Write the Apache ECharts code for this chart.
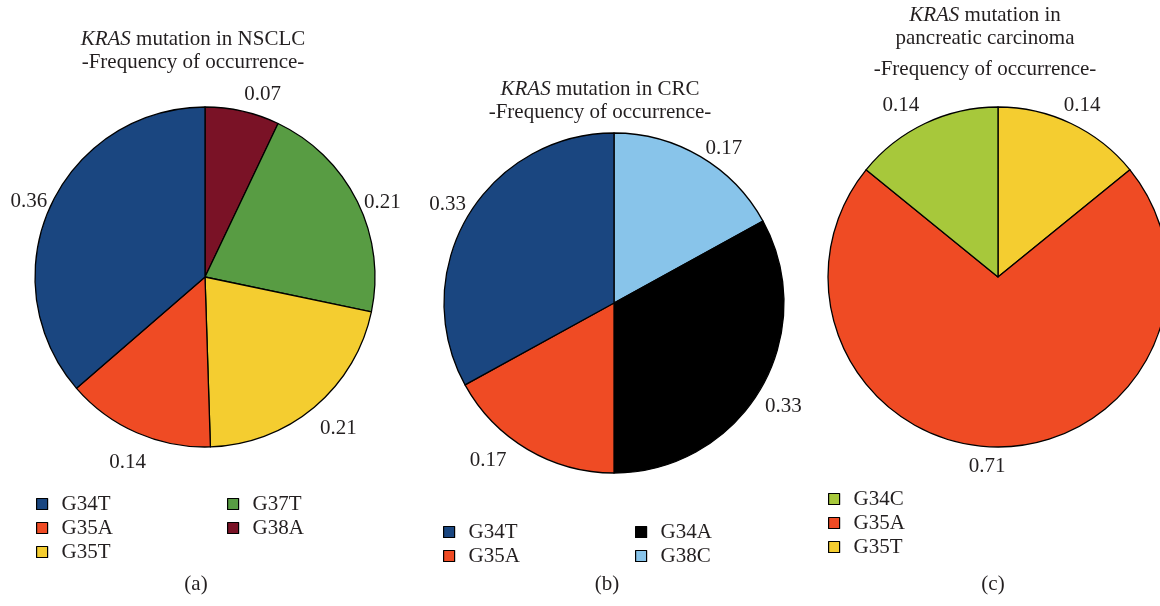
<!DOCTYPE html>
<html>
<head>
<meta charset="utf-8">
<script src="https://cdn.jsdelivr.net/npm/echarts@6/dist/echarts.min.js"></script>
<style>
html,body{margin:0;padding:0;background:#fff;}
#chart{width:1160px;height:606px;}
</style>
</head>
<body>
<div id="chart"></div>
<script>
// ---- data ----
// NSCLC (clockwise from 12 o'clock)
const nsclcNames = ['G38A', 'G37T', 'G35T', 'G35A', 'G34T'];
const nsclcValues = [0.07, 0.21, 0.21, 0.14, 0.36];
// CRC
const crcNames = ['G38C', 'G34A', 'G35A', 'G34T'];
const crcValues = [0.17, 0.33, 0.17, 0.33];
// Pancreatic carcinoma
const pancNames = ['G35T', 'G35A', 'G34C'];
const pancValues = [0.14, 0.71, 0.14];

// legend orders
const legendA1 = ['G34T', 'G35A', 'G35T'];
const legendA2 = ['G37T', 'G38A'];
const legendB1 = ['G34T', 'G35A'];
const legendB2 = ['G34A', 'G38C'];
const legendC1 = ['G34C', 'G35A', 'G35T'];

// ---- styles ----
const colorMap = {
  G34T: '#1a4680',
  G35A: '#ef4b24',
  G35T: '#f4cd30',
  G37T: '#589c43',
  G38A: '#7a1226',
  G34A: '#000000',
  G38C: '#88c4ea',
  G34C: '#a7c83b'
};
// small hand-placement nudges of the value labels (pixels)
const labelNudgeA = [[14, 11], [0, 13], [6, 0], [2, 4], [4, 7]];
const labelNudgeB = [[9, 16], [-1, 3], [-25, -13], [4, 2]];
const labelNudgeC = [[-1, 7], [-11, -9], [-12, 7]];

const FONT = '"Liberation Serif", "DejaVu Serif", serif';
const FS = 21;
const TXT = '#231f20';
const R = 170;

function mainPie(names, values, center) {
  return {
    type: 'pie',
    center: center,
    radius: [0, R],
    startAngle: 90,
    clockwise: true,
    silent: true,
    label: { show: false },
    labelLine: { show: false },
    itemStyle: { borderColor: '#000', borderWidth: 1.3 },
    data: names.map((n, i) => ({ name: n, value: values[i], itemStyle: { color: colorMap[n] } }))
  };
}
function labelRing(names, values, center, nudge) {
  return {
    type: 'pie',
    center: center,
    radius: [R + 14, R + 36],
    startAngle: 90,
    clockwise: true,
    silent: true,
    itemStyle: { color: 'rgba(0,0,0,0)' },
    label: {
      show: true, position: 'inside', color: TXT,
      fontFamily: FONT, fontSize: FS,
      formatter: p => values[p.dataIndex].toFixed(2)
    },
    labelLine: { show: false },
    data: names.map((n, i) => ({
      name: 'lbl_' + n, value: values[i],
      label: { offset: nudge[i] }
    }))
  };
}
function legend(data, left, top) {
  return {
    data: data, orient: 'vertical', left: left, top: top, padding: 0,
    icon: 'rect', itemWidth: 11, itemHeight: 11, itemGap: 0,
    selectedMode: false,
    itemStyle: { borderColor: '#000', borderWidth: 1.2 },
    textStyle: { fontFamily: FONT, fontSize: FS, color: TXT, lineHeight: 24, padding: [0, 0, 0, 9] }
  };
}
function title(x, y, text) {
  return {
    type: 'text', x: x, y: y, silent: true,
    style: {
      text: text, align: 'center', verticalAlign: 'top',
      fontFamily: FONT, fontSize: FS, fill: TXT, lineHeight: 23,
      rich: { i: { fontStyle: 'italic', fontFamily: FONT, fontSize: FS, fill: TXT, lineHeight: 23 } }
    }
  };
}

const cA = [205, 277], cB = [614, 303], cC = [998, 277];

const chart = echarts.init(document.getElementById('chart'), null, { renderer: 'canvas' });
chart.setOption({
  backgroundColor: '#fff',
  animation: false,
  series: [
    mainPie(nsclcNames, nsclcValues, cA),
    mainPie(crcNames, crcValues, cB),
    mainPie(pancNames, pancValues, cC),
    labelRing(nsclcNames, nsclcValues, cA, labelNudgeA),
    labelRing(crcNames, crcValues, cB, labelNudgeB),
    labelRing(pancNames, pancValues, cC, labelNudgeC)
  ],
  legend: [
    legend(legendA1, 36, 492),
    legend(legendA2, 227, 492),
    legend(legendB1, 443, 520),
    legend(legendB2, 635, 520),
    legend(legendC1, 828, 487)
  ],
  graphic: [
    title(193, 28, '{i|KRAS} mutation in NSCLC\n-Frequency of occurrence-'),
    title(600, 78, '{i|KRAS} mutation in CRC\n-Frequency of occurrence-'),
    title(985, 4, '{i|KRAS} mutation in\npancreatic carcinoma'),
    title(985, 58, '-Frequency of occurrence-'),
    title(196, 573, '(a)'),
    title(607, 573, '(b)'),
    title(993, 573, '(c)')
  ]
});
</script>
</body>
</html>
